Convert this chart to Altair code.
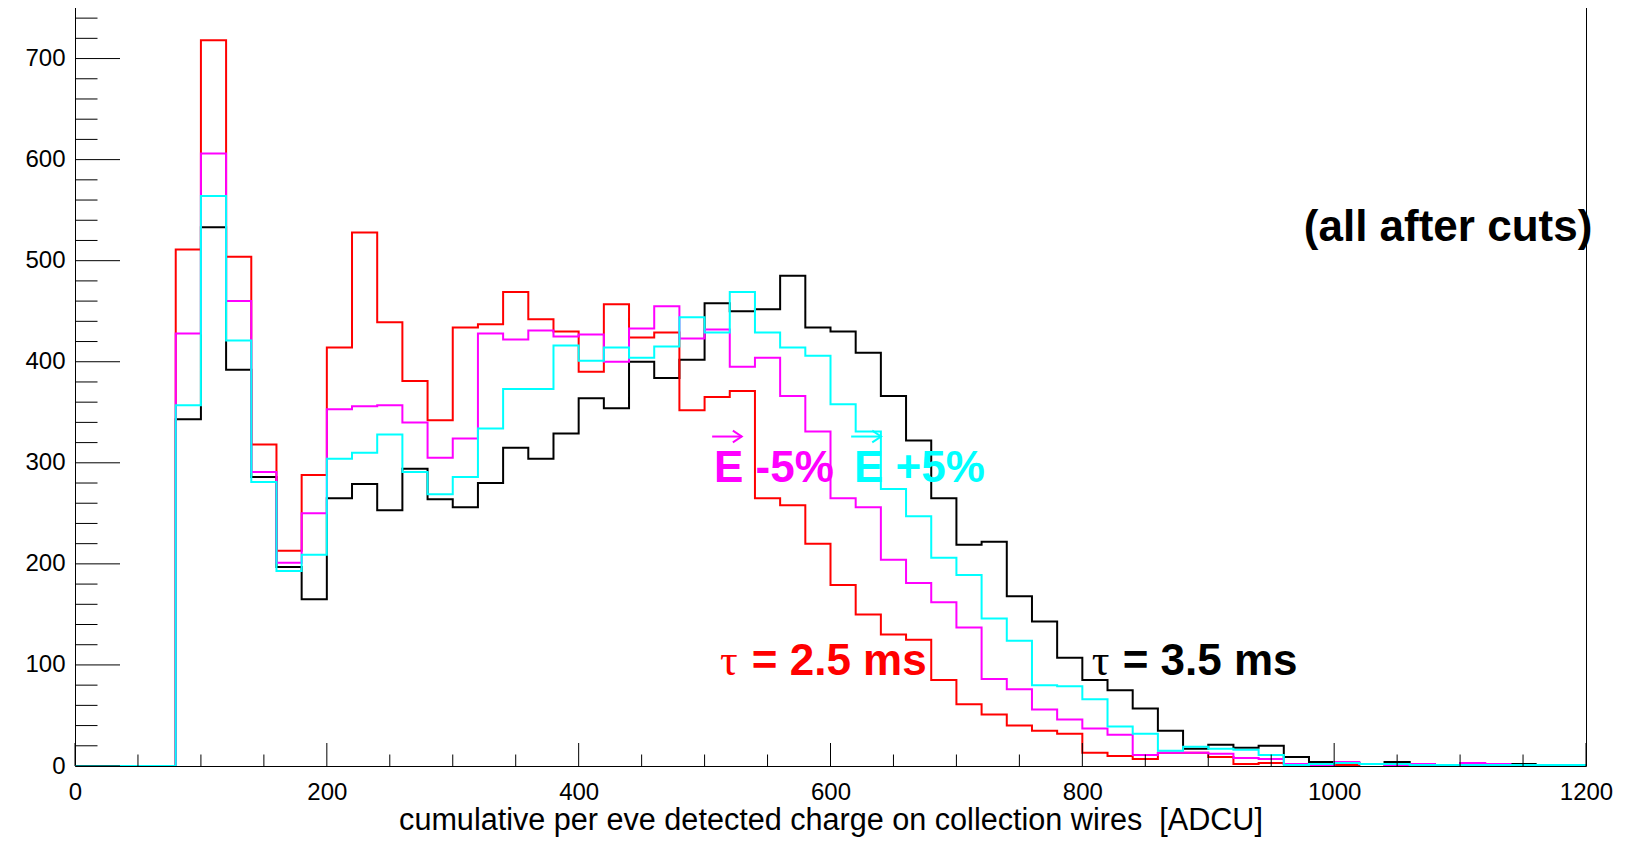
import altair as alt
import pandas as pd

# ---------------- data (bin width 20, bins start at 0; values listed from the 80-100 bin) ----
bin_width = 20
first_filled_bin = 80
x_max = 1200

tau35 = [343, 533, 392, 286, 197, 165, 265, 279, 253, 294, 264, 256, 280, 315, 304, 329,
         364, 354, 400, 384, 402, 458, 450, 452, 485, 434, 430, 409, 366, 322, 265, 219,
         222, 168, 143, 107, 85, 75, 57, 35, 17, 21, 18, 20, 9, 4, 3, 2, 4, 2, 1, 1, 1, 2, 1, 0]
tau25 = [511, 718, 504, 318, 213, 288, 414, 528, 439, 381, 342, 434, 437, 469, 442, 430,
         390, 457, 424, 429, 352, 365, 371, 265, 258, 220, 179, 150, 130, 125, 85, 61,
         51, 40, 35, 32, 13, 10, 7, 13, 13, 9, 2, 3, 2, 1, 1, 2, 0, 1, 1, 1, 1, 0, 0, 0]
e_minus = [428, 606, 460, 291, 201, 250, 353, 356, 357, 340, 305, 324, 428, 422, 431, 425,
           427, 400, 433, 455, 423, 432, 395, 404, 366, 331, 265, 256, 204, 181, 162, 137,
           86, 76, 56, 46, 37, 31, 11, 13, 13, 12, 8, 7, 2, 1, 4, 2, 1, 2, 1, 3, 2, 1, 0, 0]
e_plus = [357, 564, 421, 281, 193, 209, 304, 310, 328, 291, 269, 286, 334, 373, 373, 416,
          401, 414, 404, 415, 444, 429, 469, 429, 414, 406, 358, 331, 274, 247, 206, 189,
          146, 124, 80, 79, 66, 39, 32, 15, 19, 17, 16, 11, 1, 2, 3, 2, 2, 1, 1, 1, 1, 1, 1, 1]

series_names = ["tau35", "tau25", "e_minus", "e_plus"]
series_values = [tau35, tau25, e_minus, e_plus]
series_colors = ["#000000", "#ff0000", "#ff00ff", "#00ffff"]

y_major = [0, 100, 200, 300, 400, 500, 600, 700]
y_minor = [v for v in range(20, 760, 20) if v % 100 != 0]
x_major = [0, 200, 400, 600, 800, 1000, 1200]
x_minor = [v for v in range(50, 1200, 50) if v % 200 != 0]

x_title = "cumulative per eve detected charge on collection wires\u00a0 [ADCU]"

# annotations
big_texts = ["(all after cuts)", "= 3.5 ms", "= 2.5 ms", "E -5%", "E +5%"]
big_x = [1205, 832, 537.5, 507.5, 618.7]
big_y = [519, 90, 90, 281, 281]
big_colors = ["#000000", "#000000", "#ff0000", "#ff00ff", "#00ffff"]
big_align = ["right", "left", "left", "left", "left"]

tau_texts = ["τ", "τ"]
tau_x = [807.5, 512.3]
tau_y = [90, 90]
tau_colors = ["#000000", "#ff0000"]

arrow_x = [506.0, 616.4]
arrow_x2 = [529.5, 640.2]
arrow_y = [326, 326]
arrow_colors = ["#ff00ff", "#00ffff"]

# ---------------- chart ----------------
W, H = 1511, 760
xscale = alt.Scale(domain=[0, x_max], nice=False, zero=False)
yscale = alt.Scale(domain=[0, 752], nice=False, zero=False)

x_axis = alt.Axis(
    values=x_major, ticks=False, domain=False, grid=False, labelFlush=False,
    labelFont="Liberation Sans", labelFontSize=24, labelColor="black", labelPadding=14,
    format="d", title=x_title, titleFont="Liberation Sans", titleFontSize=30.6,
    titleFontWeight="normal", titleColor="black", titlePadding=1)
y_axis = alt.Axis(
    values=y_major, ticks=False, domain=False, grid=False, labelFlush=False,
    labelFont="Liberation Sans", labelFontSize=24, labelColor="black", labelPadding=10,
    format="d", title=None)


def X(field):
    return alt.X(field, scale=xscale, axis=x_axis)


def Y(field):
    return alt.Y(field, scale=yscale, axis=y_axis)


n_empty = first_filled_bin // bin_width
layers = []
for name, vals, col in zip(series_names, series_values, series_colors):
    full = [0] * n_empty + vals
    xs = [k * bin_width for k in range(len(full))] + [len(full) * bin_width]
    ys = full + [full[-1]]
    df = pd.DataFrame({"x": xs, "y": ys})
    layers.append(alt.Chart(df).mark_line(interpolate="step-after", strokeWidth=2, color=col,
                                          clip=True).encode(x=X("x:Q"), y=Y("y:Q")))


# tick marks inside the frame (ROOT style)
def yticks(vals, length):
    return alt.Chart(pd.DataFrame({"v": vals})).mark_rule(color="black", strokeWidth=1).encode(
        y=Y("v:Q"), x=alt.value(0), x2=alt.value(length))


def xticks(vals, length):
    return alt.Chart(pd.DataFrame({"v": vals})).mark_rule(color="black", strokeWidth=1).encode(
        x=X("v:Q"), y=alt.value(H), y2=alt.value(H - length))


tick_layers = [yticks(y_major, 45), yticks(y_minor, 22.5), xticks(x_major, 23), xticks(x_minor, 11.5)]

ann = pd.DataFrame({"t": big_texts, "x": big_x, "y": big_y, "c": big_colors, "a": big_align})
text_layers = []
for align in ["left", "right"]:
    sub = ann[ann["a"] == align]
    text_layers.append(alt.Chart(sub).mark_text(
        align=align, baseline="alphabetic", font="Liberation Sans", fontSize=44, fontWeight="bold"
    ).encode(x=X("x:Q"), y=Y("y:Q"), text="t:N", color=alt.Color("c:N", scale=None)))

tau_df = pd.DataFrame({"t": tau_texts, "x": tau_x, "y": tau_y, "c": tau_colors})
text_layers.append(alt.Chart(tau_df).mark_text(
    align="left", baseline="alphabetic", font="Liberation Serif", fontSize=44
).encode(x=X("x:Q"), y=Y("y:Q"), text="t:N", color=alt.Color("c:N", scale=None)))

# vector arrows over the E
arr_df = pd.DataFrame({"x": arrow_x, "x2": arrow_x2, "y": arrow_y, "c": arrow_colors})
text_layers.append(alt.Chart(arr_df).mark_rule(strokeWidth=2).encode(
    x=X("x:Q"), x2="x2:Q", y=Y("y:Q"), color=alt.Color("c:N", scale=None)))
text_layers.append(alt.Chart(arr_df).mark_point(
    shape="M -1.5 -1 L 0 0 L -1.5 1", filled=False, size=140, strokeWidth=2, opacity=1
).encode(x=X("x2:Q"), y=Y("y:Q"), color=alt.Color("c:N", scale=None)))

chart = alt.layer(*layers, *tick_layers, *text_layers).properties(
    width=W, height=H,
    padding={"left": 67, "top": -2, "right": 34, "bottom": 71},
    autosize=alt.AutoSizeParams(type="none"),
).configure_view(stroke="black", strokeWidth=1)

chart.save("out.html", embed_options={"renderer": "svg", "actions": False})
